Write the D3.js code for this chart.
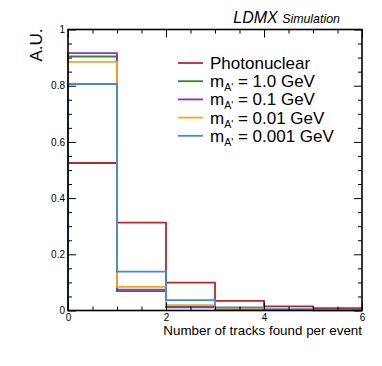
<!DOCTYPE html>
<meta charset="utf-8">
<head>
  <title>LDMX tracks per event</title>
</head>

<style>
body { margin: 0; background: white; }
text {
  font-family: "Liberation Sans", Helvetica, Arial, sans-serif;
  fill: black;
}
.axis path { display: none; }
.axis line { stroke: black; stroke-width: 1; }
.axis text { font-size: 10px; fill: black; }
.hist { fill: none; stroke-width: 1.8; }
</style>

<body>
  <svg width="382" height="366"></svg>

  <script src="https://cdnjs.cloudflare.com/ajax/libs/d3/7.8.5/d3.min.js"></script>
  <script>
// bin edges 0..6, one value per bin (normalised)
var binEdges = [0, 1, 2, 3, 4, 5, 6];
var photonuclear = [0.525, 0.313, 0.099, 0.034, 0.015, 0.008];
var mA1p0   = [0.904, 0.074, 0.014, 0.005, 0.002, 0.001];
var mA0p1   = [0.916, 0.069, 0.011, 0.003, 0.001, 0.0005];
var mA0p01  = [0.885, 0.084, 0.019, 0.007, 0.003, 0.001];
var mA0p001 = [0.806, 0.138, 0.037, 0.011, 0.005, 0.003];

var seriesNames = ["Photonuclear", "1.0", "0.1", "0.01", "0.001"];
var seriesColors = ["#b8262e", "#2a8a2a", "#8a2be2", "#ffa31a", "#3f8ae0"];
var seriesValues = [photonuclear, mA1p0, mA0p1, mA0p01, mA0p001];

var xMajor = [0, 2, 4, 6];
var yMajor = [0, 0.2, 0.4, 0.6, 0.8, 1];

var pLeft = 68, pRight = 362, pTop = 29.5, pBottom = 310.5;

var svg = d3.select('svg');

var x = d3.scaleLinear().domain([0, 6]).range([pLeft, pRight]);
var y = d3.scaleLinear().domain([0, 1]).range([pBottom, pTop]);

var xMinor = d3.range(0, 6.001, 0.5).filter(function(d) { return d % 2 !== 0; });
var yMinor = d3.range(0, 1.001, 0.05).filter(function(d) { return Math.abs(d * 5 - Math.round(d * 5)) > 1e-6; });
var fmt = d3.format("~g");

// histograms, drawn as step outlines
var line = d3.line()
  .x(function(d) { return x(d[0]); })
  .y(function(d) { return y(d[1]); });

function steps(vals) {
  var pts = [[binEdges[0], 0]];
  vals.forEach(function(v, i) {
    pts.push([binEdges[i], v]);
    pts.push([binEdges[i + 1], v]);
  });
  pts.push([binEdges[binEdges.length - 1], 0]);
  return pts;
}

svg.append('g')
  .selectAll('path')
  .data(seriesValues)
  .enter()
  .append('path')
  .attr('class', 'hist')
  .attr('stroke', function(d, i) { return seriesColors[i]; })
  .attr('d', function(d) { return line(steps(d)); });

// axes (ticks inside, on all four sides)
svg.append('g').attr('class', 'axis')
  .attr('transform', 'translate(0,' + pBottom + ')')
  .call(d3.axisBottom(x).tickValues(xMajor).tickSize(-8).tickPadding(3).tickFormat(fmt));
svg.append('g').attr('class', 'axis')
  .attr('transform', 'translate(0,' + pBottom + ')')
  .call(d3.axisBottom(x).tickValues(xMinor).tickSize(-4).tickFormat(''));
svg.append('g').attr('class', 'axis')
  .attr('transform', 'translate(0,' + pTop + ')')
  .call(d3.axisTop(x).tickValues(xMajor).tickSize(-8).tickFormat(''));
svg.append('g').attr('class', 'axis')
  .attr('transform', 'translate(0,' + pTop + ')')
  .call(d3.axisTop(x).tickValues(xMinor).tickSize(-4).tickFormat(''));

svg.append('g').attr('class', 'axis')
  .attr('transform', 'translate(' + pLeft + ',0)')
  .call(d3.axisLeft(y).tickValues(yMajor).tickSize(-8).tickPadding(3).tickFormat(fmt));
svg.append('g').attr('class', 'axis')
  .attr('transform', 'translate(' + pLeft + ',0)')
  .call(d3.axisLeft(y).tickValues(yMinor).tickSize(-4).tickFormat(''));
svg.append('g').attr('class', 'axis')
  .attr('transform', 'translate(' + pRight + ',0)')
  .call(d3.axisRight(y).tickValues(yMajor).tickSize(-8).tickFormat(''));
svg.append('g').attr('class', 'axis')
  .attr('transform', 'translate(' + pRight + ',0)')
  .call(d3.axisRight(y).tickValues(yMinor).tickSize(-4).tickFormat(''));

// frame
svg.append('rect')
  .attr('x', pLeft).attr('y', pTop)
  .attr('width', pRight - pLeft).attr('height', pBottom - pTop)
  .attr('fill', 'none').attr('stroke', 'black').attr('stroke-width', 1.6);

// titles
svg.append('text')
  .attr('transform', 'translate(42,' + (pTop - 1) + ') rotate(-90)')
  .attr('text-anchor', 'end')
  .style('font-size', '17px')
  .text('A.U.');

svg.append('text')
  .attr('x', pRight).attr('y', 335)
  .attr('text-anchor', 'end')
  .style('font-size', '13.4px')
  .text('Number of tracks found per event');

var brand = svg.append('text')
  .attr('x', 340).attr('y', 23)
  .attr('text-anchor', 'end')
  .style('font-style', 'italic');
brand.append('tspan').style('font-size', '16px').text('LDMX ');
brand.append('tspan').style('font-size', '12.4px').text('Simulation');

// legend
var legend = svg.append('g')
  .selectAll('g')
  .data(seriesNames)
  .enter()
  .append('g')
  .attr('transform', function(d, i) { return 'translate(178,' + (63 + i * 18.2) + ')'; });

legend.append('line')
  .attr('x1', 0).attr('x2', 25)
  .attr('stroke', function(d, i) { return seriesColors[i]; })
  .attr('stroke-width', 1.8);

legend.each(function(d, i) {
  var t = d3.select(this).append('text')
    .attr('x', 32).attr('y', 6)
    .style('font-size', '17px');
  if (i === 0) {
    t.text(d);
  } else {
    t.append('tspan').text('m');
    t.append('tspan').attr('dy', 4).style('font-size', '10.5px').text("A'");
    t.append('tspan').attr('dy', -4).text(' = ' + d + ' GeV');
  }
});
  </script>
</body>
</html>
